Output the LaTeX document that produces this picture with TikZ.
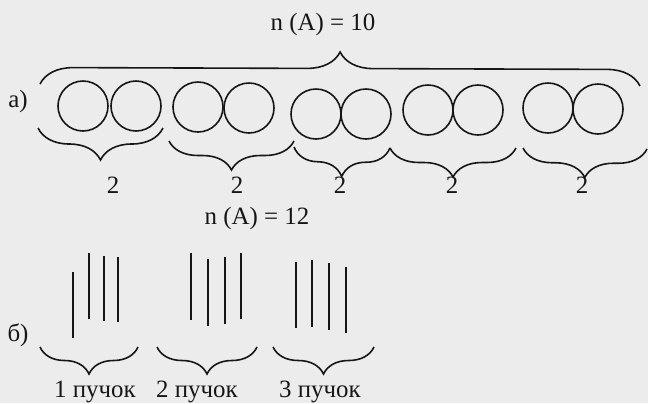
\documentclass[tikz,border=0pt]{standalone}
\usepackage{fontspec}
\setmainfont{Liberation Serif}
\usetikzlibrary{decorations.pathreplacing}
\definecolor{paper}{HTML}{ECECEC}
\definecolor{ink}{HTML}{161616}

\begin{document}
\begin{tikzpicture}[x=1bp, y=-1bp,
  ball/.style={circle, draw=ink, line width=1.6bp, minimum size=50bp, inner sep=0pt},
  stick/.style={draw=ink, line width=2bp},
  brc/.style={draw=ink, line width=1.6bp, decorate, decoration={brace, amplitude=#1}},
  brc/.default=29bp,
  dbrc/.style={brc=#1, decoration={mirror}},
  dbrc/.default=29bp,
  lbl/.style={font=\fontsize{25}{30}\selectfont, text=ink, inner sep=0pt, anchor=base}]
\fill[paper] (0,0) rectangle (648,403);
\useasboundingbox (0,0) rectangle (648,403);
% a) ten balls in pairs
\node[lbl] (nA) at (323,30) {n (A) = 10};
\node[lbl] (la) at (18,107) {а)};
\coordinate (tl) at (40,84); \coordinate (tr) at (640,86);
\draw[brc=33bp] (tl) -- (tr);
\node[ball] (c1) at (83,106) {};  \node[ball] (c2) at (136,106) {};
\node[ball] (c3) at (198,107) {}; \node[ball] (c4) at (249,108) {};
\node[ball] (c5) at (316,114) {}; \node[ball] (c6) at (366,114) {};
\node[ball] (c7) at (428,110) {}; \node[ball] (c8) at (478,110) {};
\node[ball] (c9) at (548,108) {}; \node[ball] (c10) at (598,109) {};
\coordinate (p0) at (38,128);  \coordinate (p1) at (163,128);
\coordinate (p2) at (169,141); \coordinate (p3) at (294,141);
\coordinate (p4) at (294,147); \coordinate (p5) at (390,148);
\coordinate (p6) at (523,148); \coordinate (p7) at (516,148);
\coordinate (p8) at (647,149);
\draw[dbrc=32bp] (p0) -- (p1); \draw[dbrc] (p2) -- (p3);
\draw[dbrc] (p4) -- (p5); \draw[dbrc] (p5) -- (p7);
\draw[dbrc] (p6) -- (p8);
\node[lbl] (two1) at (113,193) {2}; \node[lbl] (two2) at (237,193) {2};
\node[lbl] (two3) at (340,193) {2}; \node[lbl] (two4) at (452,193) {2};
\node[lbl] (two5) at (582,193) {2};
% b) twelve sticks in bundles
\node[lbl] (nB) at (257,224) {n (A) = 12};
\node[lbl] (lb) at (18,341) {б)};
\draw[stick] (73,272) -- (73,338);   \draw[stick] (89,253) -- (89,319);
\draw[stick] (104,256) -- (104,321); \draw[stick] (118,257) -- (118,322);
\draw[stick] (191,253) -- (191,320); \draw[stick] (208,259) -- (208,326);
\draw[stick] (225,257) -- (225,324); \draw[stick] (241,253) -- (241,319);
\draw[stick] (296,262) -- (296,328); \draw[stick] (312,260) -- (312,327);
\draw[stick] (329,263) -- (329,330); \draw[stick] (346,267) -- (346,333);
\coordinate (q0) at (40,347);  \coordinate (q1) at (138,347);
\coordinate (q2) at (157,347); \coordinate (q3) at (257,347);
\coordinate (q4) at (273,347); \coordinate (q5) at (374,347);
\draw[dbrc=27bp] (q0) -- (q1); \draw[dbrc=27bp] (q2) -- (q3);
\draw[dbrc=27bp] (q4) -- (q5);
\node[lbl] (bun1) at (95,397) {1 пучок};
\node[lbl] (bun2) at (197,397) {2 пучок};
\node[lbl] (bun3) at (320,397) {3 пучок};
\end{tikzpicture}
\end{document}
